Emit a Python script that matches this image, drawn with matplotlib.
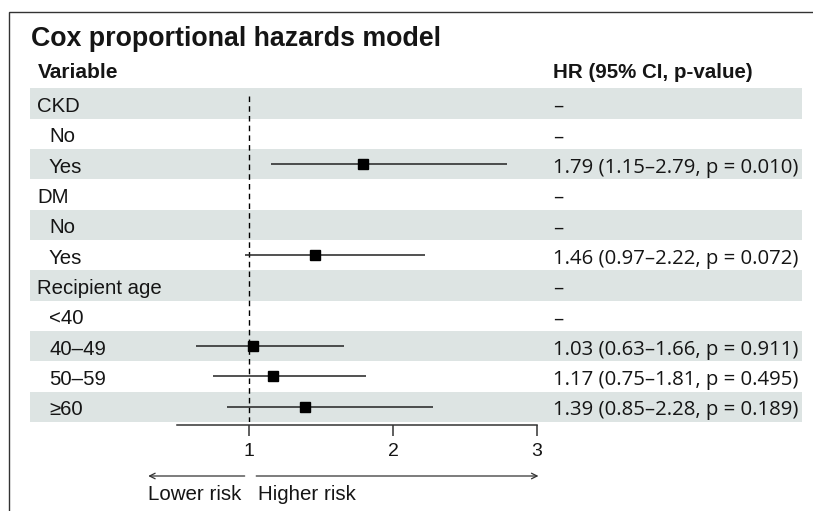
import matplotlib
matplotlib.use("Agg")
import matplotlib.pyplot as plt
from matplotlib.patches import Rectangle
from matplotlib.transforms import blended_transform_factory

# datos del modelo de Cox
etiquetas = ["CKD", "No", "Yes", "DM", "No", "Yes", "Recipient age",
             "<40", "40–49", "50–59", "≥60"]
es_nivel = [False, True, True, False, True, True, False, True, True, True, True]
hr = [None, None, 1.79, None, None, 1.46, None, None, 1.03, 1.17, 1.39]
ic_inf = [None, None, 1.15, None, None, 0.97, None, None, 0.63, 0.75, 0.85]
ic_sup = [None, None, 2.79, None, None, 2.22, None, None, 1.66, 1.81, 2.28]
p_val = [None, None, "0.010", None, None, "0.072", None, None, "0.911", "0.495", "0.189"]
ticks_x = [1, 2, 3]

W, H = 813, 511
fig = plt.figure(figsize=(W / 100, H / 100), dpi=100)
fuente = ["Liberation Sans", "DejaVu Sans"]
fuente_val = ["Open Sans", "DejaVu Sans"]
texto = "#151515"
banda = "#dde4e3"

n = len(etiquetas)
y_top, y_bot = 88.3, 422.0
abajo = (H - y_bot) / H
alto = (y_bot - y_top) / H

# marco de la figura
fig.patches.append(Rectangle((9 / W, -0.2), 1.5, 1 - 12 / H + 0.2, transform=fig.transFigure,
                             fill=False, edgecolor="#333333", linewidth=1.0))

# tabla de fondo
ax_t = fig.add_axes([30 / W, abajo, 772 / W, alto])
ax_t.set_xlim(0, 1)
ax_t.set_ylim(n - 0.5, -0.5)
ax_t.axis("off")
for i in range(n):
    if i % 2 == 0:
        ax_t.axhspan(i - 0.5, i + 0.5, color=banda, lw=0)
    x_lab = 19 / 772 if es_nivel[i] else 7 / 772
    ax_t.text(x_lab, i + 0.28, etiquetas[i], family=fuente, fontsize=14.7,
              color=texto, va="baseline", ha="left")
    if hr[i] is None:
        s = "–"
    else:
        s = f"{hr[i]:.2f} ({ic_inf[i]:.2f}–{ic_sup[i]:.2f}, p = {p_val[i]})"
    ax_t.text(522.7 / 772, i + 0.28, s, family=fuente_val, fontsize=14.7,
              color=texto, va="baseline", ha="left")

ax_t.text(8 / 772, -0.85, "Variable", family=fuente, fontsize=15, weight="bold",
          color=texto, va="baseline", ha="left", clip_on=False)
ax_t.text(522.7 / 772, -0.85, "HR (95% CI, p-value)", family=fuente, fontsize=14.8,
          weight="bold", color=texto, va="baseline", ha="left", clip_on=False)

fig.text(31 / W, 1 - 46.5 / H, "Cox proportional hazards model", family=fuente,
         fontsize=19.3, weight="bold", color=texto, va="baseline", ha="left")

# forest plot
ax = fig.add_axes([177 / W, abajo, 360 / W, alto])
ax.patch.set_alpha(0)
ax.set_xlim(0.5, 3)
ax.set_ylim(n - 0.5, -0.5)
ax.vlines(1, -0.25, n - 0.5, colors="black", linestyles=(0, (4, 3)), linewidth=1.0)
for i in range(n):
    if hr[i] is None:
        continue
    ax.hlines(i, ic_inf[i], ic_sup[i], colors="#222222", linewidth=1.1)
    ax.plot(hr[i], i, marker="s", markersize=7, color="black", linestyle="none")

for lado in ["top", "right", "left"]:
    ax.spines[lado].set_visible(False)
ax.spines["bottom"].set_position(("outward", 2))
ax.spines["bottom"].set_color("#333333")
ax.spines["bottom"].set_linewidth(1.1)
ax.set_yticks([])
ax.set_xticks(ticks_x)
ax.set_xticklabels([str(t) for t in ticks_x], family=fuente, fontsize=14, color=texto)
ax.tick_params(axis="x", length=8, width=1.1, color="#333333", pad=5)

# flechas de riesgo
tr = blended_transform_factory(ax.transData, fig.transFigure)
y_fl = 1 - 476 / H
ax.annotate("", xy=(0.3, y_fl), xytext=(0.97, y_fl), xycoords=tr, textcoords=tr,
            arrowprops=dict(arrowstyle="->", lw=0.9, color="#333333",
                            shrinkA=0, shrinkB=0), annotation_clip=False)
ax.annotate("", xy=(3.01, y_fl), xytext=(1.05, y_fl), xycoords=tr, textcoords=tr,
            arrowprops=dict(arrowstyle="->", lw=0.9, color="#333333",
                            shrinkA=0, shrinkB=0), annotation_clip=False)
ax.text(0.95, 1 - 500 / H, "Lower risk", transform=tr, family=fuente, fontsize=14.8,
        color=texto, ha="right", va="baseline")
ax.text(1.06, 1 - 500 / H, "Higher risk", transform=tr, family=fuente, fontsize=14.8,
        color=texto, ha="left", va="baseline")

fig.savefig("out.png", dpi=100, facecolor="white")
